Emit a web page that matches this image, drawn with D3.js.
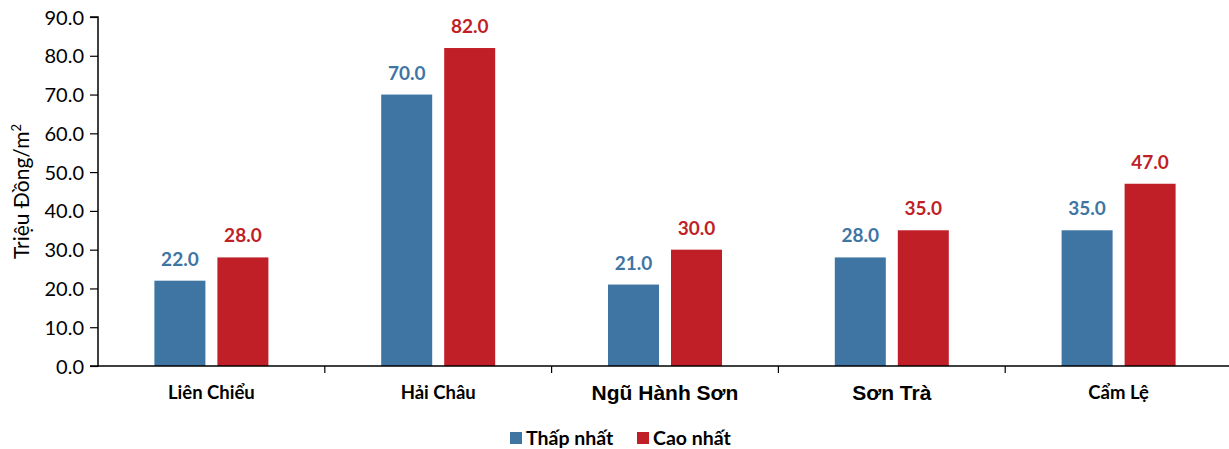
<!DOCTYPE html>
<html>
<head>
<meta charset="utf-8">
<script src="https://cdn.jsdelivr.net/npm/d3@7"></script>
<style>
  body { margin: 0; background: #fff; }
  text { font-family: Lato, "Open Sans", sans-serif; }
</style>
</head>
<body>
<div id="chart"></div>
<script>
// Data
const districts = ['Liên Chiểu', 'Hải Châu', 'Ngũ Hành Sơn', 'Sơn Trà', 'Cẩm Lệ'];
const lowest = [22, 70, 21, 28, 35];
const highest = [28, 82, 30, 35, 47];
const seriesNames = ['Thấp nhất', 'Cao nhất'];
const yTicks = [0, 10, 20, 30, 40, 50, 60, 70, 80, 90];

const colors = ['#3e75a3', '#c01f27'];
const width = 1229, height = 449;
const margin = {top: 17, right: 0, bottom: 83, left: 98};
const innerW = 1134;
const innerH = height - margin.top - margin.bottom;

const svg = d3.select('#chart').append('svg')
  .attr('width', width)
  .attr('height', height);

const g = svg.append('g')
  .attr('transform', 'translate(' + margin.left + ',' + margin.top + ')');

// Scales
const x = d3.scaleBand().domain(districts).range([0, innerW]);
const y = d3.scaleLinear().domain([0, 90]).range([innerH, 0]);
const barW = 51, gap = 12;
const offsets = [-(barW + gap / 2), gap / 2];

// bars and labels
const series = [lowest, highest];
series.forEach((vals, s) => {
  g.selectAll('.bar-' + s)
    .data(vals).enter()
    .append('rect')
    .attr('x', (d, i) => x(districts[i]) + x.bandwidth() / 2 + offsets[s])
    .attr('y', d => y(d))
    .attr('width', barW)
    .attr('height', d => innerH - y(d))
    .attr('fill', colors[s]);

  g.selectAll('.lbl-' + s)
    .data(vals).enter()
    .append('text')
    .attr('x', (d, i) => x(districts[i]) + x.bandwidth() / 2 + offsets[s] + barW / 2)
    .attr('y', d => y(d) - 15)
    .attr('text-anchor', 'middle')
    .attr('font-size', 19)
    .attr('font-weight', 'bold')
    .attr('fill', colors[s])
    .text(d => d.toFixed(1));
});

// y axis
const yAxis = d3.axisLeft(y).tickValues(yTicks).tickFormat(d3.format('.1f')).tickSize(8).tickPadding(6);
const yg = g.append('g').call(yAxis);
yg.select('.domain').attr('stroke', '#000').attr('stroke-width', 1.5).attr('d', 'M-8,' + innerH + 'H0V0H-8');
yg.selectAll('.tick line').attr('stroke', '#000').attr('stroke-width', 1.2);
yg.selectAll('.tick text').attr('font-size', 20).attr('fill', '#000')
  .attr('dy', '0.35em')
  .style('font-family', 'Lato, sans-serif');

// x axis
const xg = g.append('g').attr('transform', 'translate(0,' + innerH + ')');
xg.append('line').attr('x1', 0).attr('x2', innerW).attr('stroke', '#000').attr('stroke-width', 1.5);
xg.selectAll('.xt')
  .data(districts.slice(1)).enter()
  .append('line')
  .attr('x1', d => x(d)).attr('x2', d => x(d))
  .attr('y1', 0).attr('y2', 7)
  .attr('stroke', '#000').attr('stroke-width', 1.2);
xg.selectAll('.xl')
  .data(districts).enter()
  .append('text')
  .attr('x', d => x(d) + x.bandwidth() / 2)
  .attr('y', (d, i) => (i === 2 || i === 3) ? 34 : 33)
  .attr('text-anchor', 'middle')
  .attr('font-weight', 'bold')
  .attr('font-size', (d, i) => (i === 2 || i === 3) ? 21 : 18.5)
  .attr('fill', '#000')
  .style('font-family', (d, i) => (i === 2 || i === 3) ? 'Liberation Sans, Arial, sans-serif' : 'Lato, sans-serif')
  .text(d => d);

// y title
svg.append('text')
  .attr('transform', 'translate(29,' + (margin.top + innerH / 2) + ') rotate(-90)')
  .attr('text-anchor', 'middle')
  .attr('font-size', 21)
  .attr('fill', '#000')
  .html('Triệu Đồng/m<tspan dy="-8" font-size="13">2</tspan>');

// legend
const legendX = [510, 637];
const legend = svg.selectAll('.legend')
  .data(seriesNames).enter()
  .append('g')
  .attr('transform', (d, i) => 'translate(' + legendX[i] + ',432)');
legend.append('rect').attr('width', 12).attr('height', 12).attr('fill', (d, i) => colors[i]);
legend.append('text')
  .attr('x', 16).attr('y', 13)
  .attr('font-size', 19.5).attr('font-weight', 'bold').attr('fill', '#000')
  .text(d => d);
</script>
</body>
</html>
